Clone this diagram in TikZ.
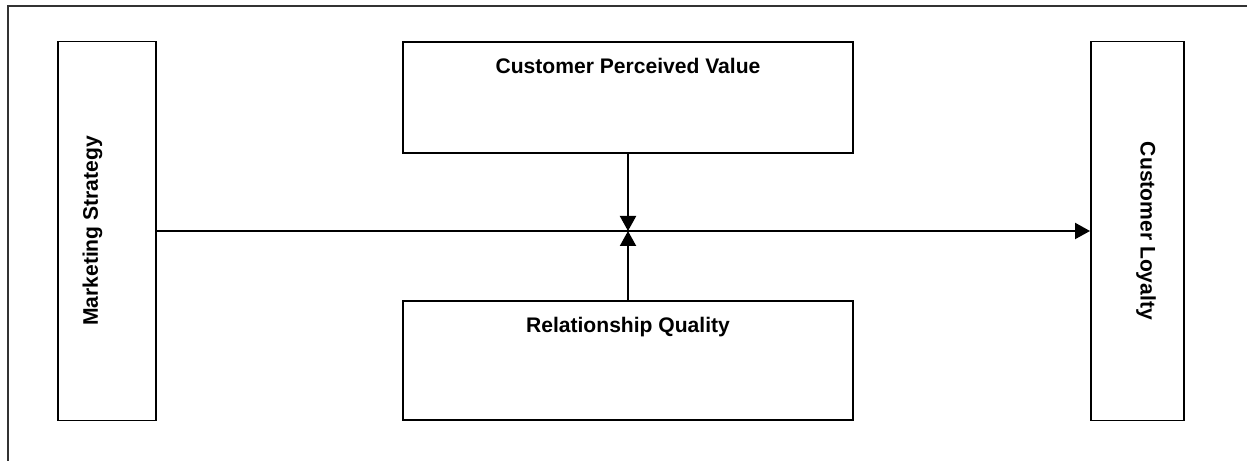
\documentclass[tikz,border=0pt]{standalone}
\usepackage{fontspec}
\setmainfont{Liberation Sans}
\usetikzlibrary{arrows.meta}
\tikzset{
	box/.style={draw, line width=1.1pt, inner sep=0pt, font=\bfseries\fontsize{12}{14}\selectfont},
	link/.style={line width=1.15pt, -{Triangle[length=0.3cm, width=0.32cm]}}
}

\begin{document}
\begin{tikzpicture}
		%%%%% START %%%%%
		\useasboundingbox (0, 0) rectangle (24.94, 9.22);
		\draw[line width=0.9pt, color=black!80] (0.16, 0) |- (24.94, 9.10);
		
		% side boxes are turned, so .south is the inner side of both
		\node[box, rotate=90, minimum width=7.58cm, minimum height=1.96cm, text height=0.80cm, text depth=1.16cm] (strategy) at (2.14, 4.60) {Marketing Strategy};
		\node[box, rotate=-90, minimum width=7.58cm, minimum height=1.86cm, text height=0.87cm, text depth=0.99cm] (loyalty) at (22.75, 4.60) {Customer Loyalty};
		
		% middle boxes, text near the top
		\node[box, minimum width=9cm, minimum height=2.22cm, text height=0.63cm, text depth=1.59cm] (value) at (12.56, 7.27) {Customer Perceived Value};
		\node[box, minimum width=9cm, minimum height=2.38cm, text height=0.63cm, text depth=1.75cm] (quality) at (12.56, 2.01) {Relationship Quality};
		
		\coordinate (meet) at (value.south |- strategy.south);
		
		\draw[link] (strategy.south) -- (loyalty.south);
		\draw[link] (value.south) -- (meet);
		\draw[link] (quality.north) -- (meet);
		
		%%%%% END %%%%%
\end{tikzpicture}
\end{document}
